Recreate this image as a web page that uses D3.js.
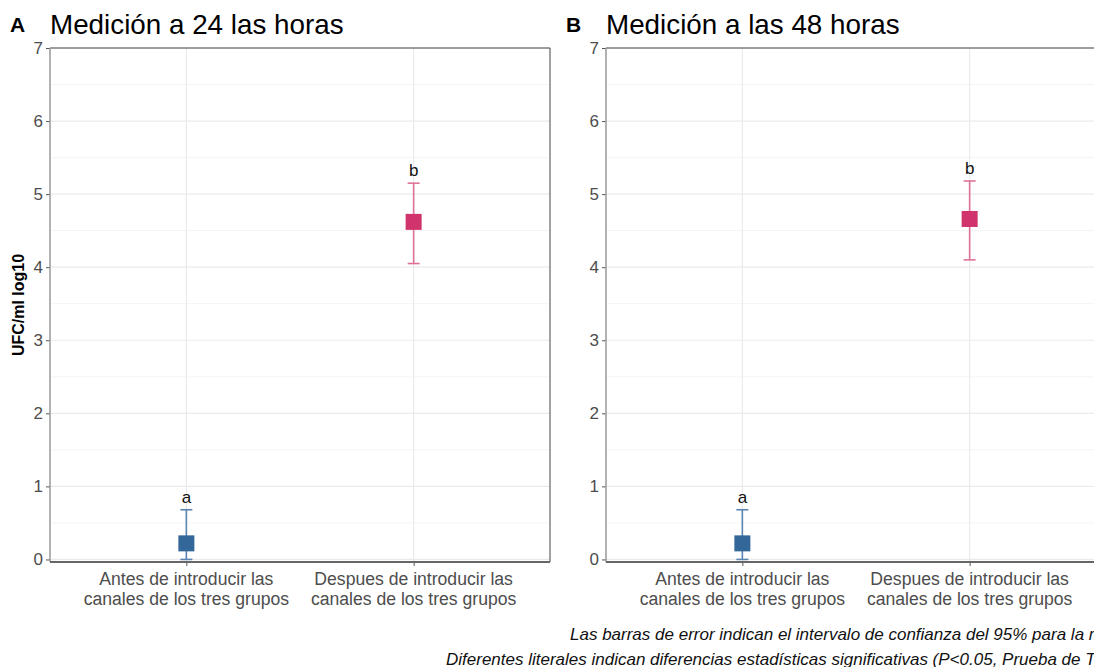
<!DOCTYPE html>
<html>
<head>
<meta charset="utf-8">
<script src="https://cdn.jsdelivr.net/npm/d3@7"></script>
<style>
  html, body { margin: 0; padding: 0; background: #fff; overflow: hidden; }
  svg { display: block; font-family: "Liberation Sans", Arial, sans-serif; }
</style>
</head>
<body>
<svg id="chart" width="1094" height="667"></svg>
<script>
// data
const categories = [
  'Antes de introducir las\ncanales de los tres grupos',
  'Despues de introducir las\ncanales de los tres grupos',
];
const panelTags = ['A', 'B'];
const panelTitles = ['Medición a 24 las horas', 'Medición a las 48 horas'];
const means24 = [0.22, 4.62];
const lower24 = [0.0, 4.05];
const upper24 = [0.68, 5.15];
const means48 = [0.22, 4.66];
const lower48 = [0.0, 4.10];
const upper48 = [0.68, 5.18];
const letters = ['a', 'b'];
const yTicks = [0, 1, 2, 3, 4, 5, 6, 7];
const captionLines = [
  'Las barras de error indican el intervalo de confianza del 95% para la media',
  'Diferentes literales indican diferencias estadísticas significativas (P<0.05, Prueba de Tukey)',
];

const fillColors = ['#336699', '#d1346c'];
const barColors = ['#5b84b1', '#df7199'];

const svg = d3.select('#chart');

const plotTop = 48, plotBottom = 562, panelW = 500;
const panelLefts = [50, 606];

const y = d3.scaleLinear().domain([-0.035, 7]).range([plotBottom, plotTop]);

const panels = [
  { mean: means24, lo: lower24, hi: upper24 },
  { mean: means48, lo: lower48, hi: upper48 },
];

panels.forEach((p, pi) => {
  const left = panelLefts[pi];
  const g = svg.append('g').attr('transform', `translate(${left},0)`);

  const x = d3.scalePoint().domain(categories).range([0, panelW]).padding(0.6);

  // minor grid
  g.append('g').selectAll('line')
    .data(d3.range(0.5, 7, 1))
    .join('line')
    .attr('x1', 0).attr('x2', panelW)
    .attr('y1', d => y(d)).attr('y2', d => y(d))
    .attr('stroke', '#f4f4f4').attr('stroke-width', 1);

  // major grid
  g.append('g').selectAll('line')
    .data(yTicks)
    .join('line')
    .attr('x1', 0).attr('x2', panelW)
    .attr('y1', d => y(d)).attr('y2', d => y(d))
    .attr('stroke', '#ebebeb').attr('stroke-width', 1.2);
  g.append('g').selectAll('line')
    .data(categories)
    .join('line')
    .attr('x1', d => x(d)).attr('x2', d => x(d))
    .attr('y1', plotTop).attr('y2', plotBottom)
    .attr('stroke', '#ebebeb').attr('stroke-width', 1.2);

  // border
  g.append('line').attr('x1', 0).attr('x2', panelW).attr('y1', plotTop).attr('y2', plotTop)
    .attr('stroke', '#444').attr('stroke-width', 1);
  g.append('line').attr('x1', panelW).attr('x2', panelW).attr('y1', plotTop).attr('y2', plotBottom)
    .attr('stroke', '#444').attr('stroke-width', 1);

  // y axis
  const yAxis = g.append('g')
    .call(d3.axisLeft(y).tickValues(yTicks).tickFormat(d3.format('d')).tickSize(4).tickPadding(3));
  yAxis.select('.domain').remove();
  yAxis.selectAll('.tick line').attr('stroke', '#555');
  yAxis.selectAll('.tick text').attr('fill', '#4d4d4d').style('font-size', '17px');
  g.append('line').attr('x1', 0).attr('x2', 0).attr('y1', plotTop).attr('y2', plotBottom)
    .attr('stroke', '#999').attr('stroke-width', 1.5);

  // x axis
  const xAxis = g.append('g').attr('transform', `translate(0,${plotBottom})`)
    .call(d3.axisBottom(x).tickSize(4).tickFormat(''));
  xAxis.select('.domain').remove();
  xAxis.selectAll('.tick line').attr('stroke', '#555');
  g.append('line').attr('x1', 0).attr('x2', panelW).attr('y1', plotBottom).attr('y2', plotBottom)
    .attr('stroke', '#666').attr('stroke-width', 2);
  const xl = g.append('g').selectAll('text')
    .data(categories)
    .join('text')
    .attr('x', d => x(d))
    .attr('y', plotBottom + 23)
    .attr('text-anchor', 'middle')
    .attr('fill', '#4d4d4d')
    .style('font-size', '17.6px');
  xl.each(function (d) {
    const t = d3.select(this);
    d.split('\n').forEach((line, li) => {
      t.append('tspan').attr('x', x(d)).attr('dy', li === 0 ? 0 : 20).text(line);
    });
  });

  // error bars
  const bars = g.append('g').selectAll('g')
    .data(categories.map((c, i) => ({ c, i, m: p.mean[i], lo: p.lo[i], hi: p.hi[i] })))
    .join('g');
  bars.append('line')
    .attr('x1', d => x(d.c)).attr('x2', d => x(d.c))
    .attr('y1', d => y(d.lo)).attr('y2', d => y(d.hi))
    .attr('stroke', d => barColors[d.i]).attr('stroke-width', 1.6);
  bars.selectAll('line.cap')
    .data(d => [d.lo, d.hi].map(v => ({ v, c: d.c, i: d.i })))
    .join('line')
    .attr('class', 'cap')
    .attr('x1', d => x(d.c) - 6).attr('x2', d => x(d.c) + 6)
    .attr('y1', d => y(d.v)).attr('y2', d => y(d.v))
    .attr('stroke', d => barColors[d.i]).attr('stroke-width', 1.6);
  bars.append('rect')
    .attr('x', d => x(d.c) - 8).attr('y', d => y(d.m) - 8)
    .attr('width', 16).attr('height', 16)
    .attr('fill', d => fillColors[d.i]);
  bars.append('text')
    .attr('x', d => x(d.c))
    .attr('y', d => y(d.hi) - 7)
    .attr('text-anchor', 'middle')
    .style('font-size', '17px')
    .attr('fill', '#111')
    .text(d => letters[d.i]);

  // titles
  svg.append('text')
    .attr('x', left - 40).attr('y', 32)
    .style('font-size', '21px').style('font-weight', 'bold')
    .text(panelTags[pi]);
  svg.append('text')
    .attr('x', left).attr('y', 34)
    .style('font-size', '27.8px')
    .text(panelTitles[pi]);
});

// y axis title (shared)
svg.append('text')
  .attr('transform', `translate(24,${(plotTop + plotBottom) / 2}) rotate(-90)`)
  .attr('text-anchor', 'middle')
  .style('font-size', '16px').style('font-weight', 'bold')
  .text('UFC/ml log10');

// caption
const capStarts = [570, 446];
svg.append('g').selectAll('text')
  .data(captionLines)
  .join('text')
  .attr('x', (d, i) => capStarts[i])
  .attr('y', (d, i) => 640 + i * 25)
  .style('font-size', '17px').style('font-style', 'italic')
  .attr('fill', '#111')
  .text(d => d);
</script>
</body>
</html>
